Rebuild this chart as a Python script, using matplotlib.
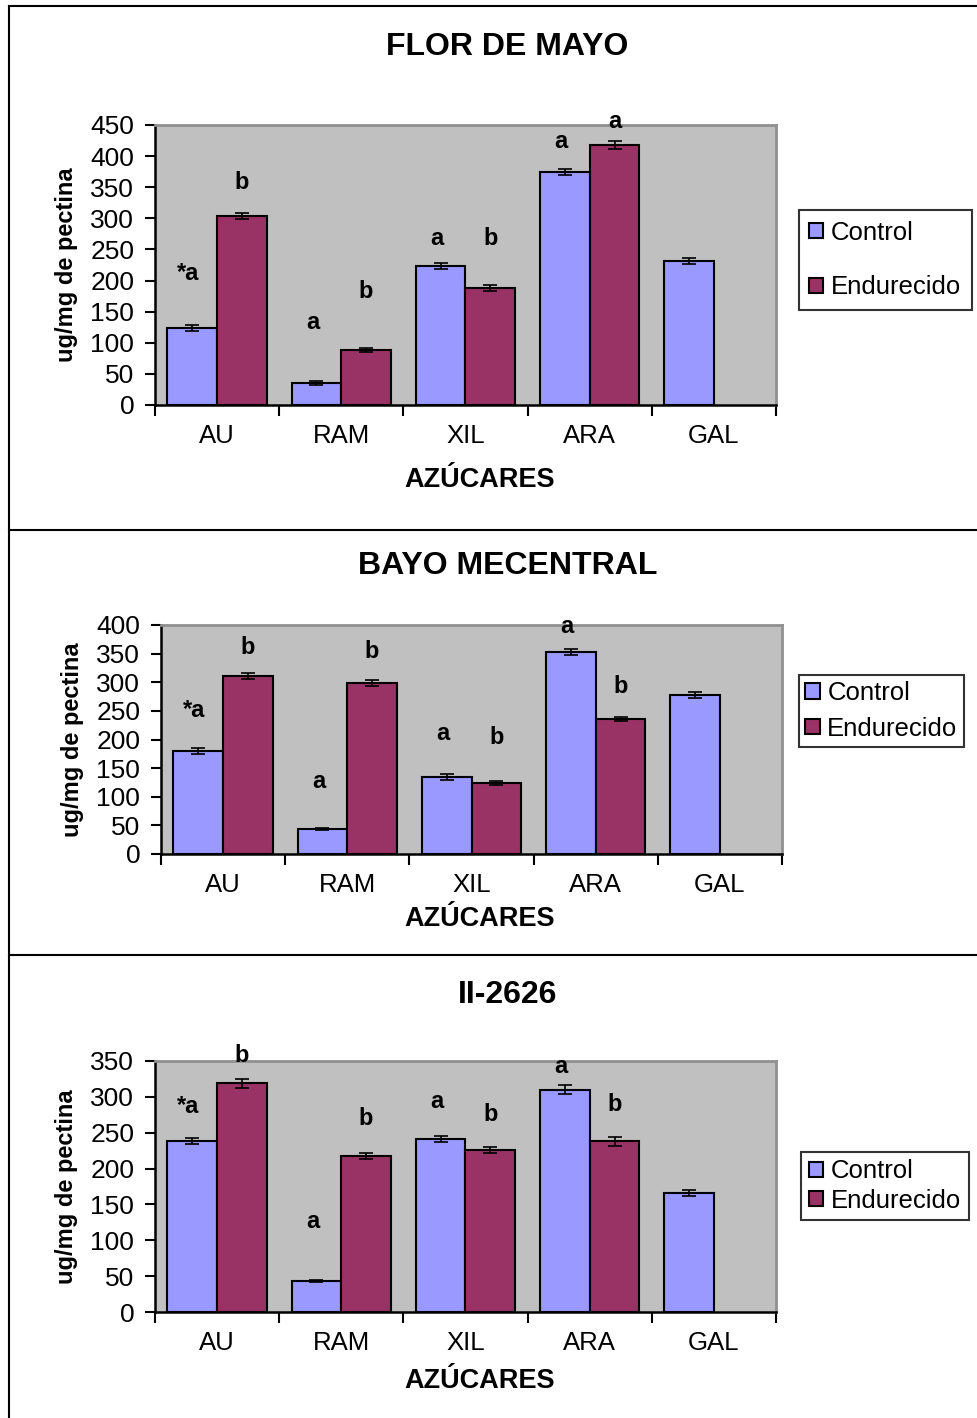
import matplotlib
matplotlib.use('Agg')
import matplotlib.pyplot as plt
from matplotlib.lines import Line2D
import numpy as np

plt.rcParams['font.family'] = ['Liberation Sans', 'DejaVu Sans']

azucares = ['AU', 'RAM', 'XIL', 'ARA', 'GAL']

# FLOR DE MAYO
fm_control = [124, 35, 223, 375, 232]
fm_control_err = [5, 3, 5, 5, 5]
fm_endur = [304, 88, 188, 418, None]
fm_endur_err = [5, 3, 5, 6, None]
fm_lab_control = ['*a', 'a', 'a', 'a', '']
fm_lab_control_y = [212, 132, 267, 423, 0]
fm_lab_endur = ['b', 'b', 'b', 'a', '']
fm_lab_endur_y = [358, 183, 267, 455, 0]

# BAYO MECENTRAL
bm_control = [180, 44, 134, 353, 278]
bm_control_err = [6, 2, 5, 5, 5]
bm_endur = [311, 299, 124, 236, None]
bm_endur_err = [6, 5, 3, 3, None]
bm_lab_control = ['*a', 'a', 'a', 'a', '']
bm_lab_control_y = [250, 126, 210, 397, 0]
bm_lab_endur = ['b', 'b', 'b', 'b', '']
bm_lab_endur_y = [360, 353, 204, 293, 0]

# II-2626
ii_control = [238, 43, 241, 310, 166]
ii_control_err = [4, 1, 4, 6, 4]
ii_endur = [319, 218, 226, 238, None]
ii_endur_err = [6, 4, 4, 6, None]
ii_lab_control = ['*a', 'a', 'a', 'a', '']
ii_lab_control_y = [286, 126, 294, 343, 0]
ii_lab_endur = ['b', 'b', 'b', 'b', '']
ii_lab_endur_y = [358, 270, 276, 290, 0]

c_control = '#9999FF'
c_endur = '#993366'

fig = plt.figure(figsize=(9.78, 14.18), dpi=100)


def panel(rect, title, title_y, control, control_err, endur, endur_err,
          lab_c, lab_c_y, lab_e, lab_e_y, ymax, step, xlabel_y, leg_pos, leg_space, leg_pad):
    ax = fig.add_axes(rect)
    ax.set_facecolor('#C0C0C0')
    x = np.arange(len(azucares))
    w = 0.4
    ax.bar(x - w / 2, control, w, color=c_control, edgecolor='black', linewidth=1.5,
           yerr=control_err, capsize=5, error_kw=dict(elinewidth=1.2, capthick=1.2),
           label='Control', zorder=3)
    idx = [i for i, v in enumerate(endur) if v is not None]
    ax.bar(x[idx] + w / 2, [endur[i] for i in idx], w, color=c_endur, edgecolor='black',
           linewidth=1.5, yerr=[endur_err[i] for i in idx], capsize=5,
           error_kw=dict(elinewidth=1.2, capthick=1.2), label='Endurecido', zorder=3)
    for i in range(len(azucares)):
        if lab_c[i]:
            ax.text(x[i] - w / 2 - 0.03, lab_c_y[i], lab_c[i], ha='center', va='center',
                    fontsize=17, fontweight='bold')
        if lab_e[i]:
            ax.text(x[i] + w / 2, lab_e_y[i], lab_e[i], ha='center', va='center',
                    fontsize=17, fontweight='bold')
    ax.set_xlim(-0.5, len(azucares) - 0.5)
    ax.set_ylim(0, ymax)
    ax.set_yticks(np.arange(0, ymax + 1, step))
    ax.set_xticks(np.arange(-0.5, len(azucares), 1))
    ax.set_xticklabels([])
    ax.tick_params(axis='x', direction='out', length=8, width=1.5)
    ax.tick_params(axis='y', direction='out', length=7, width=1.5, labelsize=19, pad=8)
    for i, name in enumerate(azucares):
        ax.annotate(name, xy=(i, 0), xycoords=('data', 'axes fraction'),
                    xytext=(0, -31), textcoords='offset pixels',
                    ha='center', va='center', fontsize=18.5)
    for s in ['left', 'bottom']:
        ax.spines[s].set_linewidth(1.8)
        ax.spines[s].set_color('black')
    for s in ['top', 'right']:
        ax.spines[s].set_linewidth(2)
        ax.spines[s].set_color('#909090')
    ax.set_ylabel('ug/mg de pectina', fontsize=17, fontweight='bold')
    ax.yaxis.set_label_coords(-0.124, 0.5)
    fig.text(0.49, xlabel_y, 'AZÚCARES', ha='center', va='center', fontsize=19.5,
             fontweight='bold')
    fig.text(0.519, title_y, title, ha='center', va='center', fontsize=23,
             fontweight='bold')
    leg = ax.legend(loc='center left', bbox_to_anchor=leg_pos, bbox_transform=fig.transFigure,
                    frameon=True, fancybox=False, edgecolor='black', fontsize=18.5,
                    handlelength=0.55, handleheight=0.55, handletextpad=0.3,
                    labelspacing=leg_space, borderpad=leg_pad, borderaxespad=0)
    leg.get_frame().set_linewidth(1.5)
    for h in leg.legend_handles:
        h.set_linewidth(1.5)
    return ax


panel([155 / 978, 1 - 405 / 1418, 621 / 978, 280 / 1418], 'FLOR DE MAYO', 1 - 47 / 1418,
      fm_control, fm_control_err, fm_endur, fm_endur_err,
      fm_lab_control, fm_lab_control_y, fm_lab_endur, fm_lab_endur_y,
      450, 50, 1 - 480 / 1418, (799 / 978, 1 - 260 / 1418), 1.2, 0.4)

panel([161 / 978, 1 - 854 / 1418, 621 / 978, 229 / 1418], 'BAYO MECENTRAL', 1 - 566 / 1418,
      bm_control, bm_control_err, bm_endur, bm_endur_err,
      bm_lab_control, bm_lab_control_y, bm_lab_endur, bm_lab_endur_y,
      400, 50, 1 - 919 / 1418, (799 / 978, 1 - 711 / 1418), 0.45, 0.25)

panel([155 / 978, 1 - 1312 / 1418, 621 / 978, 251 / 1418], 'II-2626', 1 - 995 / 1418,
      ii_control, ii_control_err, ii_endur, ii_endur_err,
      ii_lab_control, ii_lab_control_y, ii_lab_endur, ii_lab_endur_y,
      350, 50, 1 - 1381 / 1418, (801 / 978, 1 - 1186 / 1418), 0.2, 0.3)

# marco exterior y separadores
lx = 9 / 978
for yy in [6, 530, 955]:
    fig.add_artist(Line2D([lx, 1], [1 - yy / 1418] * 2, color='black', lw=1.5))
fig.add_artist(Line2D([lx, lx], [0, 1 - 6 / 1418], color='black', lw=1.5))

fig.savefig('out.png', dpi=100)
